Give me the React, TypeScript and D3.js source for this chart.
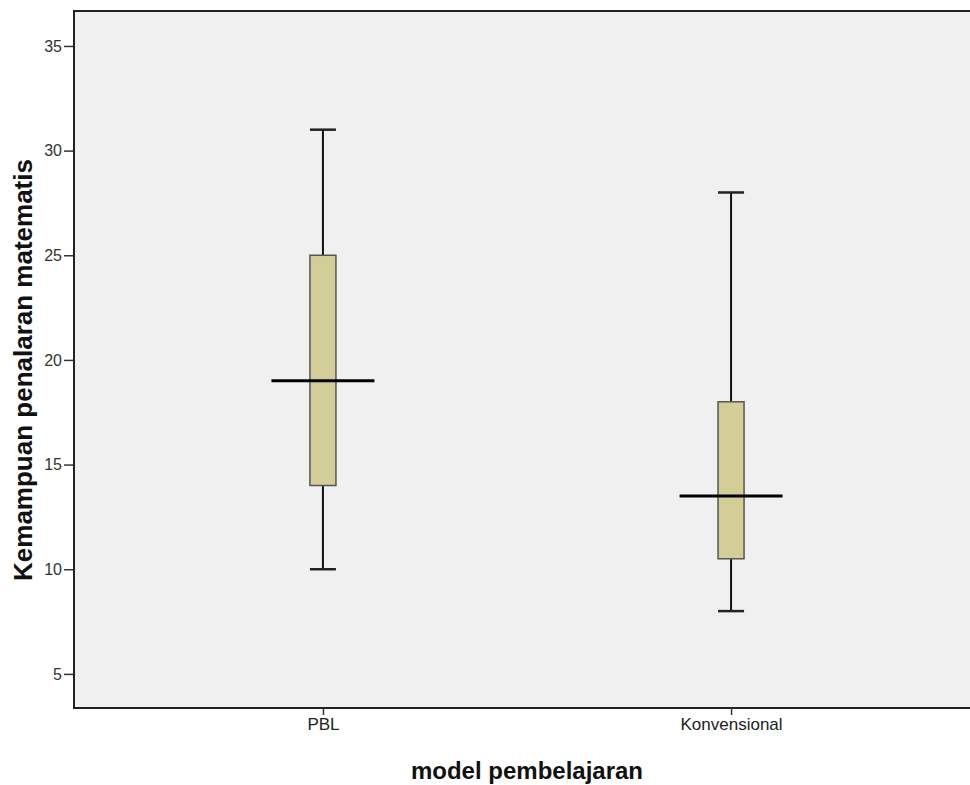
import { useEffect, useRef } from 'react'
import * as d3 from 'd3'

// boxplot summary per group
const categories = ['PBL', 'Konvensional']
const mins = [10, 8]
const q1s = [14, 10.5]
const medians = [19, 13.5]
const q3s = [25, 18]
const maxs = [31, 28]
const yTicks = [5, 10, 15, 20, 25, 30, 35]

const WIDTH = 970
const HEIGHT = 785

export default function App() {
  const svgRef = useRef<SVGSVGElement>(null)

  useEffect(() => {
    if (!svgRef.current) return
    const svg = d3.select(svgRef.current)
    svg.selectAll('*').remove()

    const left = 74
    const top = 11
    const bottom = 708
    const right = 980

    const y = d3.scaleLinear().domain([3.37, 36.67]).range([bottom, top])
    const x = d3.scalePoint<string>().domain(categories).range([left, right]).padding(0.61)

    const font = 'Arial, "Liberation Sans", sans-serif'

    // plot background
    svg.append('rect')
      .attr('x', left)
      .attr('y', top)
      .attr('width', right - left)
      .attr('height', bottom - top)
      .attr('fill', '#f0f0f0')

    // frame lines
    svg.append('line')
      .attr('x1', left).attr('x2', right)
      .attr('y1', top).attr('y2', top)
      .attr('stroke', '#222').attr('stroke-width', 2)
    svg.append('line')
      .attr('x1', left).attr('x2', right)
      .attr('y1', bottom).attr('y2', bottom)
      .attr('stroke', '#222').attr('stroke-width', 2)

    // y axis
    const yAxis = d3.axisLeft(y).tickValues(yTicks).tickSize(10).tickPadding(2)
    const gy = svg.append('g')
      .attr('transform', `translate(${left},0)`)
      .call(yAxis)
    gy.select('.domain').remove()
    gy.selectAll('line').attr('stroke', '#333').attr('stroke-width', 1.5)
    gy.selectAll('text')
      .attr('fill', '#333')
      .attr('font-size', '16px')
      .attr('font-family', font)
    svg.append('line')
      .attr('x1', left).attr('x2', left)
      .attr('y1', top - 1).attr('y2', bottom + 1)
      .attr('stroke', '#222').attr('stroke-width', 2)

    // x axis
    const xAxis = d3.axisBottom(x).tickSize(7).tickPadding(3)
    const gx = svg.append('g')
      .attr('transform', `translate(0,${bottom})`)
      .call(xAxis)
    gx.select('.domain').remove()
    gx.selectAll('line').attr('stroke', '#333').attr('stroke-width', 1.5)
    gx.selectAll('text')
      .attr('fill', '#222')
      .attr('font-size', '17px')
      .attr('font-family', font)

    const boxW = 26
    const medW = 103

    categories.forEach((c, i) => {
      const cx = x(c) as number
      const g = svg.append('g')

      // whiskers
      g.append('line')
        .attr('x1', cx).attr('x2', cx)
        .attr('y1', y(maxs[i])).attr('y2', y(q3s[i]))
        .attr('stroke', '#111').attr('stroke-width', 2)
      g.append('line')
        .attr('x1', cx).attr('x2', cx)
        .attr('y1', y(q1s[i])).attr('y2', y(mins[i]))
        .attr('stroke', '#111').attr('stroke-width', 2)
      // caps
      ;[maxs[i], mins[i]].forEach(v => {
        g.append('line')
          .attr('x1', cx - boxW / 2).attr('x2', cx + boxW / 2)
          .attr('y1', y(v)).attr('y2', y(v))
          .attr('stroke', '#222').attr('stroke-width', 2.5)
      })

      // box
      g.append('rect')
        .attr('x', cx - boxW / 2)
        .attr('y', y(q3s[i]))
        .attr('width', boxW)
        .attr('height', y(q1s[i]) - y(q3s[i]))
        .attr('fill', '#d3ce97')
        .attr('stroke', '#555')
        .attr('stroke-width', 1.5)

      // median
      g.append('line')
        .attr('x1', cx - medW / 2).attr('x2', cx + medW / 2)
        .attr('y1', y(medians[i])).attr('y2', y(medians[i]))
        .attr('stroke', '#000').attr('stroke-width', 3)
    })

    // axis titles
    svg.append('text')
      .attr('transform', `translate(32,370) rotate(-90)`)
      .attr('text-anchor', 'middle')
      .attr('font-family', font)
      .attr('font-weight', 'bold')
      .attr('font-size', '26px')
      .attr('fill', '#111')
      .text('Kemampuan penalaran matematis')

    svg.append('text')
      .attr('x', 527)
      .attr('y', 779)
      .attr('text-anchor', 'middle')
      .attr('font-family', font)
      .attr('font-weight', 'bold')
      .attr('font-size', '24px')
      .attr('fill', '#111')
      .text('model pembelajaran')
  }, [])

  return (
    <div style={{ position: 'absolute', left: 0, top: 0, width: WIDTH, height: HEIGHT, overflow: 'hidden', background: '#fff' }}>
      <svg ref={svgRef} width={WIDTH} height={HEIGHT}></svg>
    </div>
  )
}
